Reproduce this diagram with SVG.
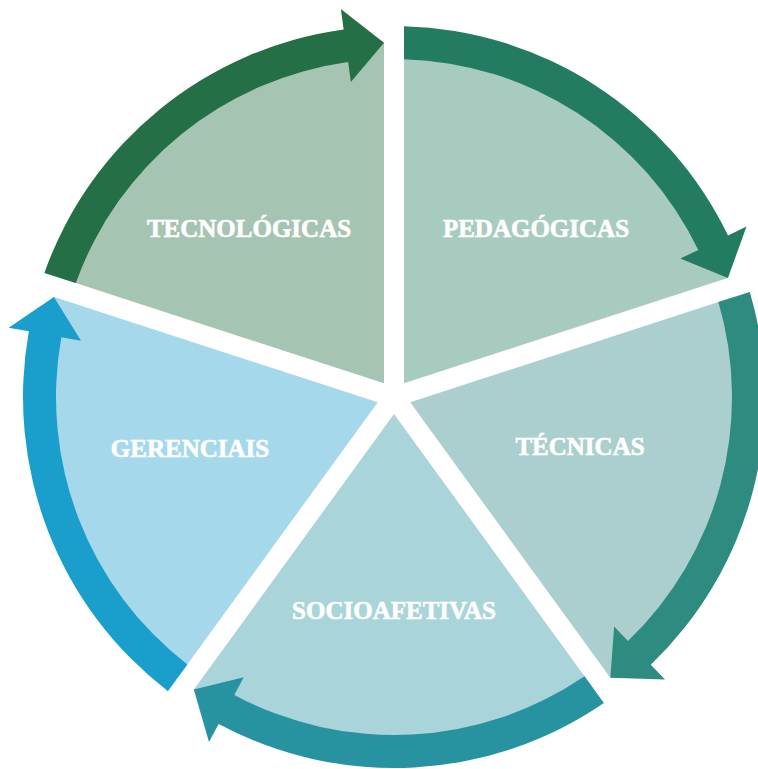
<svg xmlns="http://www.w3.org/2000/svg" width="758" height="769" viewBox="0 0 758 769">
  <defs>
    <path id="wedge" d="M10,-13.764 L10,-354.86 A355,355 0 0 1 334.40,-119.16 Z"/>
    <path id="arrow" d="M10,-370.87 A371,371 0 0 1 334.02,-161.47 L352.5,-170.4 L333.92,-119.01 L286.30,-138.40 L304.31,-147.11 A338,338 0 0 0 10,-337.85 Z"/>
  </defs>
  <style>
    .lbl { font-family: "Liberation Serif", "DejaVu Serif", serif; font-weight: bold; font-size: 25px; fill: #ffffff; stroke: #ffffff; stroke-width: 0.6px; text-anchor: middle; }
  </style>
  <rect width="758" height="769" fill="#ffffff"/>
  <g transform="translate(394,397)">
    <g id="pedagogicas">
      <use href="#wedge" fill="#a8cbc0"/>
    </g>
    <g id="tecnicas">
      <use href="#wedge" fill="#abcfce" transform="rotate(72)"/>
    </g>
    <g id="socioafetivas">
      <use href="#wedge" fill="#a8d4da" transform="rotate(144)"/>
    </g>
    <g id="gerenciais">
      <use href="#wedge" fill="#a5d8eb" transform="rotate(216)"/>
    </g>
    <g id="tecnologicas">
      <use href="#wedge" fill="#a6c4b2" transform="rotate(288)"/>
    </g>
    <g id="connectors">
      <use href="#arrow" fill="#237b62"/>
      <use href="#arrow" fill="#2e8b80" transform="rotate(72)"/>
      <use href="#arrow" fill="#2793a1" transform="rotate(144)"/>
      <use href="#arrow" fill="#1a9ecc" transform="rotate(216)"/>
      <use href="#arrow" fill="#246f45" transform="rotate(288)"/>
    </g>
  </g>
  <g id="labels">
    <text class="lbl" x="536" y="237">PEDAGÓGICAS</text>
    <text class="lbl" x="580" y="455">TÉCNICAS</text>
    <text class="lbl" x="394" y="619">SOCIOAFETIVAS</text>
    <text class="lbl" x="190" y="457">GERENCIAIS</text>
    <text class="lbl" x="249" y="237">TECNOLÓGICAS</text>
  </g>
</svg>
